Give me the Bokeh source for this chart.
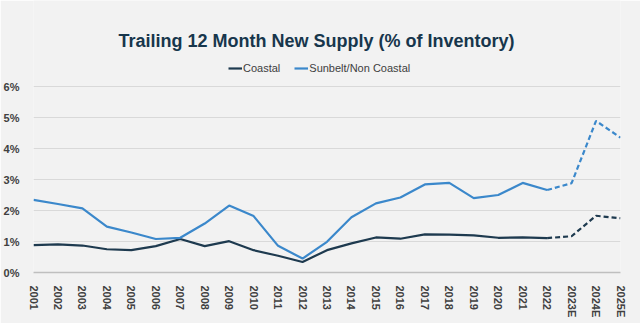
from bokeh.plotting import figure
from bokeh.models import Legend, LegendItem, Label, FixedTicker, Range1d
from bokeh.embed import file_html
from bokeh.resources import INLINE

years = ["2001", "2002", "2003", "2004", "2005", "2006", "2007", "2008", "2009",
         "2010", "2011", "2012", "2013", "2014", "2015", "2016", "2017", "2018",
         "2019", "2020", "2021", "2022", "2023E", "2024E", "2025E"]
coastal = [0.88, 0.91, 0.87, 0.75, 0.72, 0.85, 1.08, 0.85, 1.01, 0.72, 0.54, 0.34,
           0.72, 0.94, 1.13, 1.09, 1.23, 1.22, 1.20, 1.12, 1.13, 1.11, 1.17, 1.83, 1.75]
sunbelt = [2.34, 2.21, 2.07, 1.48, 1.29, 1.08, 1.12, 1.58, 2.16, 1.82, 0.86, 0.45,
           0.99, 1.78, 2.23, 2.42, 2.84, 2.89, 2.40, 2.50, 2.89, 2.66, 2.88, 4.89, 4.35]
y_ticks = [0, 1, 2, 3, 4, 5, 6]
last_actual = years.index("2022")

FONT = "Liberation Sans"
BG = "#f2f2f2"
C_COAST = "#1e3a4f"
C_SUN = "#3b88cb"

xs = list(range(len(years)))

# frame spans from the top of the canvas down to the 0% line (272 px);
# 6% sits at 86 px, so the visible range above 6% holds title and legend
px_per_unit = 31.0
y_top = 272 / px_per_unit

p = figure(width=640, height=323, output_backend="svg", toolbar_location=None,
           x_range=Range1d(0, len(years) - 1), y_range=Range1d(0, y_top),
           min_border_left=33, min_border_right=20, min_border_top=0, min_border_bottom=51)
p.background_fill_color = BG
p.border_fill_color = BG
p.outline_line_color = None

r_c = p.line(xs[:last_actual + 1], coastal[:last_actual + 1], line_color=C_COAST, line_width=2.2)
p.line(xs[last_actual:], coastal[last_actual:], line_color=C_COAST, line_width=2.2, line_dash="5 3")
r_s = p.line(xs[:last_actual + 1], sunbelt[:last_actual + 1], line_color=C_SUN, line_width=2.2)
p.line(xs[last_actual:], sunbelt[last_actual:], line_color=C_SUN, line_width=2.2, line_dash="5 3")

# axes
p.xaxis.ticker = FixedTicker(ticks=xs)
p.xaxis.major_label_overrides = {i: y for i, y in enumerate(years)}
p.xaxis.major_label_orientation = "vertical"
p.xaxis.major_tick_line_color = None
p.xaxis.minor_tick_line_color = None
p.xaxis.axis_line_color = "#bfbfbf"
p.xaxis.axis_line_width = 1.5
p.xaxis.major_label_standoff = 7
p.xaxis.major_label_text_font = FONT
p.xaxis.major_label_text_font_size = "11px"
p.xaxis.major_label_text_font_style = "bold"
p.xaxis.major_label_text_color = "#404040"

p.yaxis.ticker = FixedTicker(ticks=y_ticks)
p.yaxis.major_label_overrides = {t: f"{t}%" for t in y_ticks}
p.yaxis.axis_line_color = None
p.yaxis.major_tick_line_color = None
p.yaxis.minor_tick_line_color = None
p.yaxis.major_label_standoff = 8
p.yaxis.major_label_text_font = FONT
p.yaxis.major_label_text_font_size = "11px"
p.yaxis.major_label_text_font_style = "bold"
p.yaxis.major_label_text_color = "#404040"

p.xgrid.grid_line_color = None
p.ygrid.ticker = FixedTicker(ticks=y_ticks)
p.ygrid.grid_line_color = "#d9d9d9"
p.ygrid.grid_line_width = 1

legend = Legend(items=[LegendItem(label="Coastal", renderers=[r_c]),
                       LegendItem(label="Sunbelt/Non Coastal", renderers=[r_s])],
                orientation="horizontal", location=(195, 198),
                padding=0, margin=0, spacing=14, label_standoff=1,
                glyph_width=14, glyph_height=12, label_height=12,
                label_text_font=FONT, label_text_font_size="11px",
                label_text_color="#404040",
                background_fill_alpha=0, border_line_color=None)
p.add_layout(legend, "center")

title = Label(x=283, y=232, x_units="screen", y_units="screen",
              text="Trailing 12 Month New Supply (% of Inventory)",
              text_align="center", text_baseline="alphabetic",
              text_font=FONT, text_font_size="18px", text_font_style="bold",
              text_color="#17364c")
p.add_layout(title)

open("out.html", "w").write(file_html(p, INLINE))
